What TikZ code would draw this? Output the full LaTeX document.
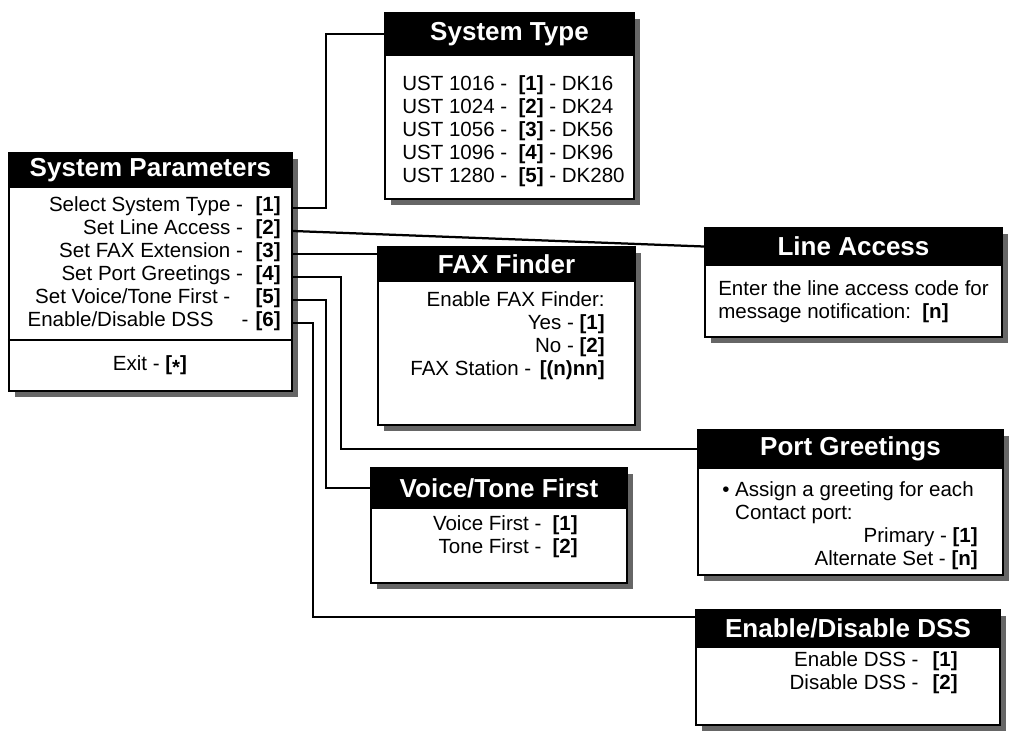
\documentclass[tikz,border=0pt]{standalone}
\usepackage{fontspec}
\setmainfont{Liberation Sans}
\usetikzlibrary{fit,shadows}

\newcommand\mnhead{\fontsize{18.5}{20}\selectfont\bfseries}
\newcommand\mnbody{\fontsize{14.6}{16.4}\selectfont}
\newcommand\optkey[1]{\textbf{[#1]}}

\tikzset{
  menubox/.style={draw=black, line width=1.5pt, fill=white, inner sep=0pt,
    drop shadow={shadow xshift=4.5pt, shadow yshift=-4.5pt, fill=black!60, opacity=1}},
  menuhead/.style={draw=black, line width=1.5pt, fill=black, inner sep=0pt},
  headtext/.style={inner sep=0pt, text=white, font=\mnhead},
  menutext/.style={inner sep=0pt, font=\mnbody},
  divline/.style={line width=1.5pt, black},
  link/.style={line width=1.6pt, black}
}

\begin{document}
\begin{tikzpicture}[x=0.025cm, y=-0.025cm]
  \useasboundingbox (0,0) rectangle (1011,740);
  % Main menu on the left
  \node[menubox, fit={(9,153) (292,391)}] (sp) {};
  \node[menuhead, fit={(9,153) (292,187)}] (sp-h) {};
  \node[headtext] (sp-l) at (sp-h.center) {System Parameters};
  \node[menutext, anchor=mid east] (r1) at (281,208) {Select System Type -\hspace{9pt}\optkey{1}};
  \node[menutext, anchor=mid east] (r2) at (281,231) {Set Line Access -\hspace{9pt}\optkey{2}};
  \node[menutext, anchor=mid east] (r3) at (281,254) {Set FAX Extension -\hspace{9pt}\optkey{3}};
  \node[menutext, anchor=mid east] (r4) at (281,277) {Set Port Greetings -\hspace{9pt}\optkey{4}};
  \node[menutext, anchor=mid east] (r5) at (281,300) {Set Voice/Tone First -\hspace{18pt}\optkey{5}};
  \node[menutext, anchor=mid east] (r6) at (281,323) {Enable/Disable DSS\hspace{20pt}-\hspace{5pt}\optkey{6}};
  \coordinate (spdiv) at (0,340);
  \draw[divline] (sp.west |- spdiv) -- (sp.east |- spdiv);
  \node[menutext] (ex) at (150,365) {Exit - \textbf{[\raisebox{-.35ex}{*}]}};

  % Sub menus
  \node[menubox, fit={(385,13) (634,199)}] (st) {};
  \node[menuhead, fit={(385,13) (634,55)}] (st-h) {};
  \node[headtext] (st-l) at (st-h.center) {System Type};
  \node[menutext, align=left, anchor=west] (st-t) at (402,131)
    {UST 1016 -\hspace{8pt}\optkey{1} - DK16\\UST 1024 -\hspace{8pt}\optkey{2} - DK24\\
     UST 1056 -\hspace{8pt}\optkey{3} - DK56\\UST 1096 -\hspace{8pt}\optkey{4} - DK96\\
     UST 1280 -\hspace{8pt}\optkey{5} - DK280};

  \node[menubox, fit={(705,228) (1002,337)}] (la) {};
  \node[menuhead, fit={(705,228) (1002,265)}] (la-h) {};
  \node[headtext] (la-l) at (la-h.center) {Line Access};
  \node[menutext, align=left, anchor=west] (la-t) at (718,302)
    {Enter the line access code for\\message notification:\hspace{8pt}\optkey{n}};

  \node[menubox, fit={(378,247) (635,425)}] (ff) {};
  \node[menuhead, fit={(378,247) (635,281)}] (ff-h) {};
  \node[headtext] (ff-l) at (ff-h.center) {FAX Finder};
  \node[menutext, align=right, anchor=east] (ff-t) at (605,336)
    {Enable FAX Finder:\\Yes - \optkey{1}\\No - \optkey{2}\\FAX Station -\hspace{6pt}\optkey{(n)nn}};

  \node[menubox, fit={(698,430) (1003,575)}] (pg) {};
  \node[menuhead, fit={(698,430) (1003,468)}] (pg-h) {};
  \node[headtext] (pg-l) at (pg-h.center) {Port Greetings};
  \node[menutext, align=left, anchor=west] (pg-t) at (722,503)
    {\textbullet\ Assign a greeting for each\\\phantom{\textbullet\ }Contact port:};
  \node[menutext, align=right, anchor=east] (pg-k) at (978,549)
    {Primary - \optkey{1}\\Alternate Set - \optkey{n}};

  \node[menubox, fit={(371,468) (627,583)}] (vt) {};
  \node[menuhead, fit={(371,468) (627,508)}] (vt-h) {};
  \node[headtext] (vt-l) at (vt-h.center) {Voice/Tone First};
  \node[menutext, align=right, anchor=east] (vt-t) at (578,537)
    {Voice First -\hspace{8pt}\optkey{1}\\Tone First -\hspace{8pt}\optkey{2}};

  \node[menubox, fit={(696,610) (1000,725)}] (ds) {};
  \node[menuhead, fit={(696,610) (1000,647)}] (ds-h) {};
  \node[headtext] (ds-l) at (ds-h.center) {Enable/Disable DSS};
  \node[menutext, align=right, anchor=east] (ds-t) at (958,673)
    {Enable DSS -\hspace{10pt}\optkey{1}\\Disable DSS -\hspace{10pt}\optkey{2}};

  % Links from the main menu
  \draw[link] (sp.east |- r1.mid) -- ++(33,0) |- (st-h.west);
  \draw[link] (sp.east |- r2.mid) -- (la-h.west);
  \draw[link] (sp.east |- r3.mid) -- (ff.west |- r3.mid);
  \draw[link] (sp.east |- r4.mid) -- ++(48,0) |- (pg-h.west);
  \draw[link] (sp.east |- r5.mid) -- ++(33,0) |- (vt-h.west);
  \draw[link] (sp.east |- r6.mid) -- ++(20,0) |- ([yshift=8pt]ds-h.west);
\end{tikzpicture}
\end{document}
